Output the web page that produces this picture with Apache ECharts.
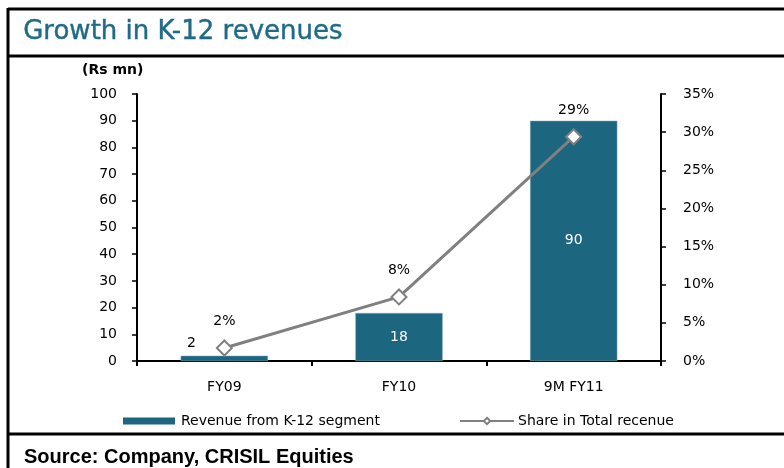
<!DOCTYPE html>
<html>
<head>
<meta charset="utf-8">
<script src="https://cdn.jsdelivr.net/npm/echarts@6/dist/echarts.min.js"></script>
<style>
html, body { margin: 0; padding: 0; background: #fff; }
#chart { width: 784px; height: 468px; }
</style>
</head>
<body>
<div id="chart"></div>
<script>
// data
const categories = ['FY09', 'FY10', '9M FY11']
const revenue = [2, 18, 90]
const share = [1.7, 8.4, 29.4]
const leftTicks = { min: 0, max: 100, interval: 10 }
const rightTicks = { min: 0, max: 35, interval: 5 }

const barColor = '#1C6680'
const lineColor = '#808080'
const font = 'DejaVu Sans'

const myChart = echarts.init(document.getElementById('chart'))

const option = {
  animation: false,
  backgroundColor: '#fff',
  textStyle: { fontFamily: font },
  grid: { left: 137, right: 123, top: 94, bottom: 107 },
  legend: [
    {
      data: [{ name: 'Revenue from K-12 segment', icon: 'rect' }],
      left: 123, top: 414, padding: 0,
      itemWidth: 52, itemHeight: 7, itemGap: 6,
      itemStyle: { borderWidth: 0 },
      textStyle: { fontFamily: font, fontSize: 14, color: '#000', padding: [0, 0, 0, 1] }
    },
    {
      data: ['Share in Total recenue'],
      left: 459, top: 414, padding: 0,
      itemWidth: 54, itemHeight: 8,
      textStyle: { fontFamily: font, fontSize: 14, color: '#000', padding: [0, 0, 0, -1] }
    }
  ],
  xAxis: {
    type: 'category',
    data: categories,
    axisLine: { lineStyle: { color: '#000', width: 2 } },
    axisTick: { show: true, alignWithLabel: false, length: 5, lineStyle: { color: '#000', width: 2 } },
    axisLabel: { color: '#000', fontSize: 14, margin: 19, fontFamily: font }
  },
  yAxis: [
    {
      type: 'value',
      min: leftTicks.min, max: leftTicks.max, interval: leftTicks.interval,
      splitLine: { show: false },
      axisLine: { show: true, lineStyle: { color: '#000', width: 2 } },
      axisTick: { show: true, length: 5, lineStyle: { color: '#000', width: 1.5 } },
      axisLabel: { color: '#000', fontSize: 14, margin: 20, fontFamily: font }
    },
    {
      type: 'value',
      position: 'right',
      min: rightTicks.min, max: rightTicks.max, interval: rightTicks.interval,
      splitLine: { show: false },
      axisLine: { show: true, lineStyle: { color: '#000', width: 2 } },
      axisTick: { show: true, length: 5, lineStyle: { color: '#000', width: 1.5 } },
      axisLabel: { color: '#000', fontSize: 14, margin: 22, fontFamily: font, formatter: '{value}%' }
    }
  ],
  series: [
    {
      name: 'Revenue from K-12 segment',
      type: 'bar',
      yAxisIndex: 0,
      barCategoryGap: '50%',
      itemStyle: { color: barColor, borderColor: '#8fb3c0', borderWidth: 0.5 },
      data: revenue.map((v, i) => ({
        value: v,
        label: i === 0
          ? { show: true, position: 'top', offset: [-33, 0], color: '#000' }
          : { show: true, position: 'inside', color: '#fff' }
      })),
      label: { fontSize: 14, fontFamily: font }
    },
    {
      name: 'Share in Total recenue',
      type: 'line',
      yAxisIndex: 1,
      symbol: 'diamond',
      symbolSize: 15,
      lineStyle: { color: lineColor, width: 3 },
      itemStyle: { color: '#fff', borderColor: lineColor, borderWidth: 2 },
      label: {
        show: true, position: 'top', distance: 11, color: '#000', fontSize: 14, fontFamily: font,
        formatter: p => Math.round(p.value) + '%'
      },
      data: share
    }
  ],
  graphic: [
    { type: 'line', shape: { x1: 8, y1: 9, x2: 784, y2: 9 }, style: { stroke: '#000', lineWidth: 3 } },
    { type: 'line', shape: { x1: 8, y1: 8, x2: 8, y2: 468 }, style: { stroke: '#000', lineWidth: 3 } },
    { type: 'line', shape: { x1: 8, y1: 56, x2: 784, y2: 56 }, style: { stroke: '#000', lineWidth: 3 } },
    { type: 'line', shape: { x1: 8, y1: 434, x2: 784, y2: 434 }, style: { stroke: '#000', lineWidth: 3 } },
    {
      type: 'text', left: 23, top: 19,
      style: { text: 'Growth in K-12 revenues', fill: '#1F6B85', font: '26px "DejaVu Sans"', stroke: '#1F6B85', lineWidth: 0.4 }
    },
    {
      type: 'text', left: 82, top: 63,
      style: { text: '(Rs mn)', fill: '#000', font: 'bold 14px "DejaVu Sans"' }
    },
    {
      type: 'text', left: 24, top: 447,
      style: { text: 'Source: Company, CRISIL Equities', fill: '#000', font: 'bold 20px "Liberation Sans"' }
    }
  ]
}

myChart.setOption(option)
</script>
</body>
</html>
